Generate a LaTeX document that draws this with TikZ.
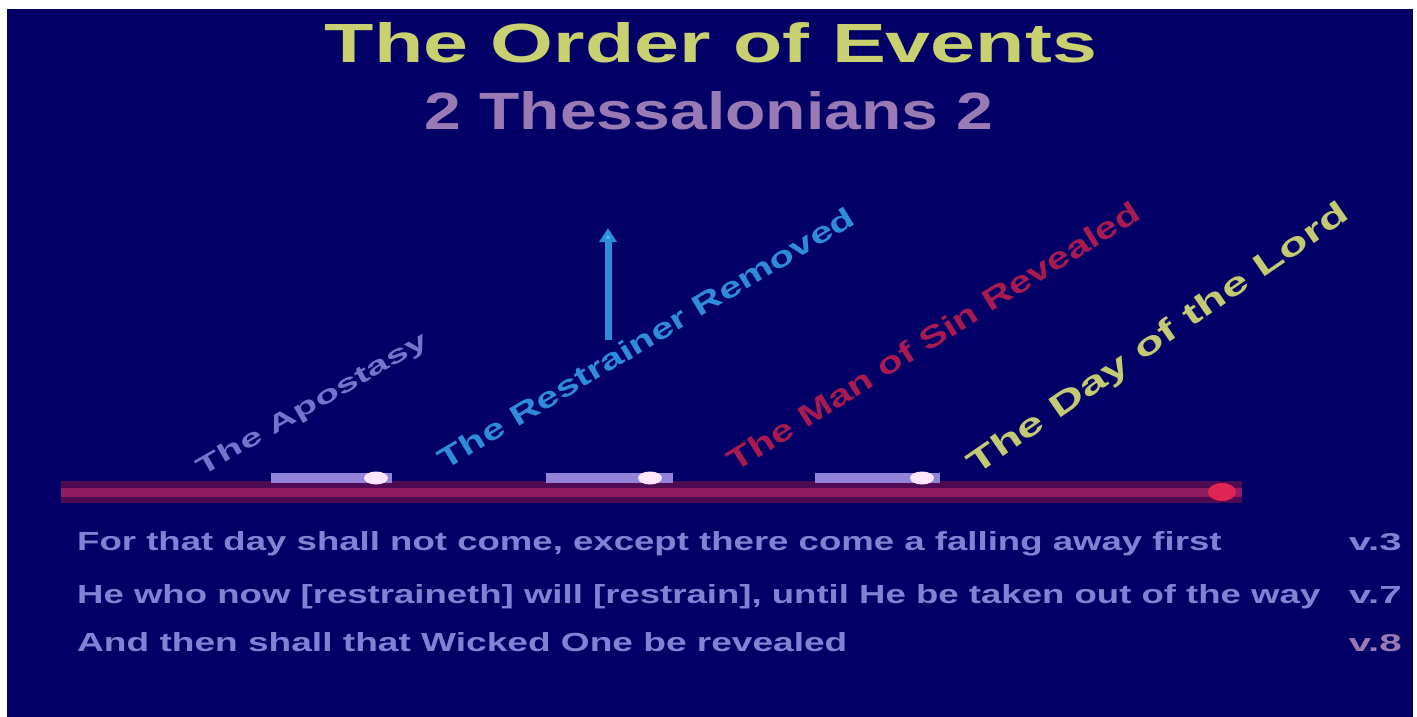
\documentclass[tikz,border=0pt]{standalone}
\usepackage{fontspec}
\setmainfont{Liberation Sans}
\usepackage{graphicx}
\usetikzlibrary{arrows.meta, shapes.geometric}

\definecolor{slidebg}{HTML}{020066}
\definecolor{titlecol}{HTML}{C8D070}
\definecolor{subcol}{HTML}{9A7AB4}
\definecolor{apostcol}{HTML}{7474CC}
\definecolor{liftcol}{HTML}{2E8CDC}
\definecolor{lifttip}{HTML}{44C4F4}
\definecolor{sincol}{HTML}{A81A50}
\definecolor{lordcol}{HTML}{C4CA72}
\definecolor{versecol}{HTML}{8282D4}
\definecolor{linecol}{HTML}{921C62}
\definecolor{glowcol}{HTML}{4E0A52}
\definecolor{barcol}{HTML}{9282DA}
\definecolor{dotcol}{HTML}{FFE6FF}
\definecolor{endcol}{HTML}{E02454}

\newcommand{\fittext}[3]{\resizebox{#1}{#2}{#3}}

\tikzset{
    slidetext/.style={inner sep=0pt, font=\bfseries},
    versetext/.style={slidetext, text=versecol, anchor=base west},
    reftext/.style={slidetext, text=versecol, anchor=base east},
    eventbar/.style={barcol, line width=10pt},
    eventdot/.style={ellipse, fill=dotcol, inner sep=0pt, minimum width=24pt, minimum height=13pt},
}

\begin{document}
\begin{tikzpicture}[x=1pt, y=-1pt, >=Latex]
    \useasboundingbox (0,0) rectangle (1417,717);
    \fill[slidebg] (7,9) rectangle (1413,717);

    % Titel
    \node[slidetext, anchor=base, text=titlecol] (title) at (711,63)
        {\fittext{772pt}{40pt}{The Order of Events}};
    \node[slidetext, anchor=base, text=subcol] (subtitle) at (709,130)
        {\fittext{569pt}{38pt}{2 Thessalonians 2}};

    % Zeitlinie
    \coordinate (tstart) at (61,492);
    \coordinate (tend) at (1242,492);
    \draw[glowcol, line width=22pt] (tstart) -- (tend);
    \draw[linecol, line width=9pt] (tstart) -- (tend);
    \node[ellipse, fill=endcol, inner sep=0pt, minimum width=28pt, minimum height=18pt] (lordday) at (1222,492) {};

    \foreach \a/\b/\d [count=\i] in {271/392/376, 546/673/650, 815/940/922} {
        \coordinate (bar\i a) at (\a,478);
        \coordinate (bar\i b) at (\b,478);
        \draw[eventbar] (bar\i a) -- (bar\i b);
        \node[eventdot] (dot\i) at (\d,478) {};
    }

    % Ereignisse
    \node[slidetext, rotate=30, text=apostcol] (apostasy) at (313,405)
        {\fittext{262pt}{18pt}{The Apostasy}};
    \node[slidetext, rotate=31, text=liftcol] (restrainer) at (646,338)
        {\fittext{480pt}{21pt}{The Restrainer Removed}};
    \node[slidetext, rotate=32, text=sincol] (mansin) at (933,336)
        {\fittext{480pt}{22pt}{The Man of Sin Revealed}};
    \node[slidetext, rotate=34.5, text=lordcol] (daylord) at (1159,340)
        {\fittext{455pt}{23pt}{The Day of the Lord}};

    \coordinate (liftbase) at (608,340);
    \coordinate (lifttop) at (608,228);
    \draw[liftcol, line width=7pt, -{Triangle[width=17pt, length=14pt, fill=lifttip]}] (liftbase) -- (lifttop);

    % Verse
    \node[versetext] (verse3) at (77,550)
        {\fittext{1144pt}{19pt}{For that day shall not come, except there come a falling away first}};
    \node[versetext] (verse7) at (77,603)
        {\fittext{1243pt}{19pt}{He who now [restraineth] will [restrain], until He be taken out of the way}};
    \node[versetext] (verse8) at (77,651)
        {\fittext{770pt}{19pt}{And then shall that Wicked One be revealed}};

    \node[reftext] (ref3) at (1402,550) {\fittext{53pt}{17pt}{v.3}};
    \node[reftext] (ref7) at (1402,603) {\fittext{53pt}{17pt}{v.7}};
    \node[reftext, text=subcol] (ref8) at (1402,651) {\fittext{53pt}{17pt}{v.8}};
\end{tikzpicture}
\end{document}
